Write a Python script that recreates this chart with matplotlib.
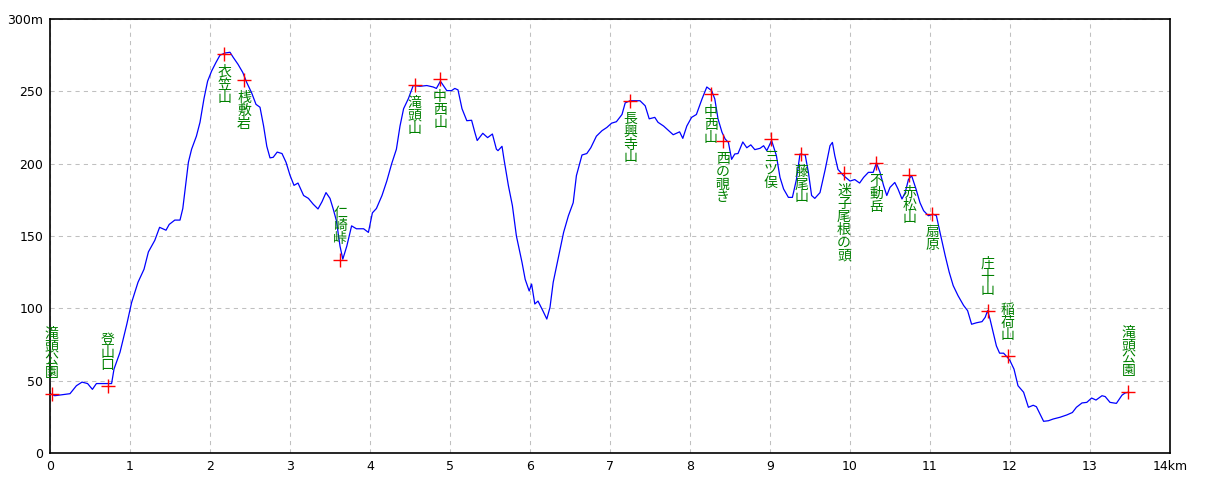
import matplotlib
matplotlib.use("Agg")
import matplotlib.pyplot as plt

plt.rcParams['font.family'] = ['Noto Sans CJK JP', 'DejaVu Sans']

# elevation profile (km, m)
dist = [0.00, 0.06, 0.25, 0.33, 0.40, 0.47, 0.53, 0.58, 0.71, 0.77, 0.80, 0.875, 0.96, 1.02, 1.10,
        1.175, 1.23, 1.31, 1.37, 1.45, 1.49, 1.56, 1.625, 1.66, 1.73, 1.77, 1.83, 1.875, 1.925, 1.97,
        2.02, 2.075, 2.125, 2.19, 2.25, 2.29, 2.35, 2.41, 2.46, 2.52, 2.575, 2.625, 2.67, 2.71, 2.75,
        2.79, 2.84, 2.90, 2.95, 3.00, 3.05, 3.10, 3.17, 3.23, 3.29, 3.35, 3.40, 3.45, 3.50, 3.54,
        3.58, 3.625, 3.66, 3.71, 3.77, 3.83, 3.92, 3.98, 4.03, 4.08, 4.15, 4.21, 4.27, 4.33, 4.375,
        4.42, 4.48, 4.54, 4.625, 4.71, 4.79, 4.83, 4.88, 4.96, 5.02, 5.06, 5.10, 5.15, 5.21, 5.27,
        5.31, 5.34, 5.41, 5.47, 5.53, 5.58, 5.60, 5.65, 5.675, 5.73, 5.78, 5.83, 5.90, 5.94, 5.99,
        6.02, 6.06, 6.10, 6.16, 6.21, 6.25, 6.29, 6.35, 6.42, 6.48, 6.54, 6.58, 6.65, 6.71, 6.76,
        6.83, 6.90, 6.96, 7.02, 7.08, 7.15, 7.19, 7.25, 7.375, 7.44, 7.49, 7.56, 7.60, 7.67, 7.73,
        7.79, 7.87, 7.91, 7.96, 8.02, 8.08, 8.15, 8.21, 8.27, 8.31, 8.35, 8.40, 8.44, 8.48, 8.52,
        8.56, 8.60, 8.66, 8.71, 8.76, 8.81, 8.875, 8.92, 8.96, 9.02, 9.08, 9.125, 9.17, 9.23, 9.28,
        9.33, 9.375, 9.44, 9.48, 9.52, 9.56, 9.625, 9.69, 9.75, 9.78, 9.81, 9.85, 9.92, 10.00, 10.06,
        10.12, 10.17, 10.23, 10.29, 10.33, 10.375, 10.42, 10.46, 10.50, 10.56, 10.60, 10.65, 10.69, 10.73, 10.77,
        10.825, 10.875, 10.92, 10.98, 11.04, 11.08, 11.125, 11.19, 11.24, 11.29, 11.35, 11.42, 11.47, 11.52, 11.58,
        11.65, 11.69, 11.72, 11.75, 11.79, 11.83, 11.87, 11.92, 11.97, 12.00, 12.05, 12.10, 12.17, 12.23, 12.29,
        12.33, 12.375, 12.42, 12.48, 12.54, 12.625, 12.71, 12.78, 12.83, 12.90, 12.96, 13.02, 13.075, 13.15, 13.19,
        13.25, 13.33, 13.40, 13.44, 13.48]
elev = [41, 39.6, 41, 46.5, 49, 48, 44, 48, 48, 48, 58, 69.6, 89, 104, 118,
        127, 139, 147, 156, 154, 158, 161, 161, 169, 201, 210, 219, 228.6, 245, 257,
        264, 270, 275, 276.5, 277, 273.5, 268.7, 263, 256, 249, 241, 239, 226, 212, 204,
        204.4, 208, 207, 201, 192, 185, 186.6, 178, 176, 172, 168.7, 173.7, 180, 176, 168.7,
        160.6, 143, 134, 143, 157, 155, 155, 152.5, 166, 169, 178, 188, 199.8, 210, 226,
        238, 245, 254, 253.5, 254, 253, 252, 257, 250.5, 250.5, 252, 251, 238, 229.7, 230,
        221.7, 216, 221, 218, 220.5, 210, 209, 212, 203, 184.8, 171, 150, 131.8, 120, 112,
        116.8, 103, 105, 98.4, 92.6, 100.7, 118, 134, 152.5, 164, 173, 191.7, 206, 207, 211,
        219, 222.8, 225, 228, 229, 234, 242, 243.5, 243.5, 240, 231, 232, 228.6, 226, 223,
        220, 222, 217.5, 226, 232, 234, 244.7, 253, 250.5, 244.7, 231, 221.7, 217, 214.7, 203,
        206.7, 207, 215, 211, 213, 209.7, 210.6, 212.4, 209, 216, 205.5, 190.5, 182.5, 176.7, 176.7,
        189, 206.7, 206, 194, 178, 176, 180, 196, 212.4, 214.7, 205.5, 196, 191.7, 188, 189,
        186.6, 190.5, 194, 194, 200.5, 194, 184.8, 178, 183.6, 187, 182.5, 175.6, 180, 189, 191.7,
        182.5, 173, 167.5, 164, 165, 164, 152.5, 136.4, 125, 115.7, 108.8, 102, 98.4, 89, 90,
        90.8, 93.8, 98.4, 92.6, 83.4, 74, 69, 69, 66, 63.8, 58, 46.5, 42, 31.6, 33,
        32, 27, 21.9, 22.3, 23.5, 24.7, 26.3, 28, 31.6, 34.6, 35, 38, 36.6, 39.6, 39,
        35, 34.3, 40, 41.5, 42]

# waypoints
wp_names = ['滝頭公園', '登山口', '衣笠山', '桟敷岩', '仁崎峠', '滝頭山', '中西山', '長興寺山',
            '中西山', '西の覗き', '三ツ俣', '藤尾山', '迷子尾根の頭', '不動岳', '赤松山', '扇原',
            '庄十山', '稲荷山', '滝頭公園']
wp_dist = [0.02, 0.72, 2.18, 2.425, 3.625, 4.56, 4.875, 7.25, 8.26, 8.41, 9.01, 9.39,
           9.925, 10.325, 10.74, 11.03, 11.72, 11.97, 13.48]
wp_elev = [41, 46, 276, 258, 133.6, 254.4, 258.5, 243.5, 248, 216, 217, 207,
           193.5, 200.5, 192.4, 165, 98.4, 66.8, 42]
wp_above = [True, True, False, False, True, False, False, False, False, False, False, False,
            False, False, False, False, True, True, True]

xticks = list(range(15))
xlabels = [str(i) for i in range(14)] + ['14km']
yticks = [0, 50, 100, 150, 200, 250, 300]
ylabels = ['0', '50', '100', '150', '200', '250', '300m']

fig = plt.figure(figsize=(12.1, 4.84), dpi=100)
ax = fig.add_axes([50/1210, 31/484, 1120/1210, 434/484])

ax.plot(dist, elev, color='#0000ff', lw=0.9)
ax.plot(wp_dist, wp_elev, '+', color='red', ms=10, mew=1.0, clip_on=False, zorder=5)

for name, x, y, up in zip(wp_names, wp_dist, wp_elev, wp_above):
    txt = '\n'.join(name)
    if up:
        ax.annotate(txt, (x, y), xytext=(0, 14), textcoords='offset pixels',
                    ha='center', va='bottom', color='green', fontsize=10, linespacing=0.9)
    else:
        ax.annotate(txt, (x, y), xytext=(0, -11), textcoords='offset pixels',
                    ha='center', va='top', color='green', fontsize=10, linespacing=0.9)

ax.set_xlim(0, 14)
ax.set_ylim(0, 300)
ax.set_xticks(xticks)
ax.set_xticklabels(xlabels, family='DejaVu Sans')
ax.set_yticks(yticks)
ax.set_yticklabels(ylabels, family='DejaVu Sans')
ax.tick_params(length=0, labelsize=9, pad=5)
ax.grid(True, color='#c0c0c0', ls=(0, (4, 4)), lw=0.75)
for s in ax.spines.values():
    s.set_linewidth(1.2)

fig.savefig('out.png', dpi=100)
